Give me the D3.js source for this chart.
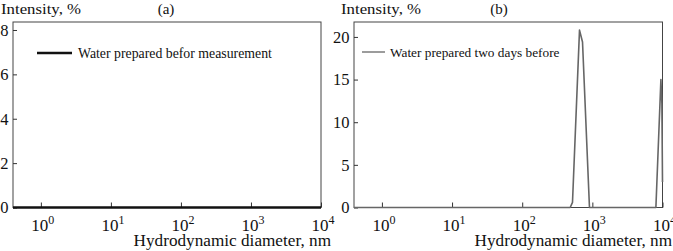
<!DOCTYPE html>
<html>
<head>
<meta charset="utf-8">
<script src="https://cdn.jsdelivr.net/npm/d3@7"></script>
<style>
  html, body { margin: 0; padding: 0; background: #fff; }
  svg { display: block; font-family: "Liberation Serif", "Times New Roman", serif; }
</style>
</head>
<body>
<svg id="chart" width="673" height="251"></svg>
<script>
// ---- data ----
const xTicks = [1, 10, 100, 1000, 10000];
const xTickExponents = ["0", "1", "2", "3", "4"];
const yTicksA = [0, 2, 4, 6, 8];
const yTicksB = [0, 5, 10, 15, 20];

const diameterA = [0.4, 10000];
const intensityA = [0, 0];

const diameterB = [0.4, 483, 521, 656, 724, 910, 8050, 9490, 9800, 10000];
const intensityB = [0, 0, 0.6, 20.8, 19.4, 0, 0, 15.0, 12.2, 3];

const panelLabels = ["(a)", "(b)"];
const legendLabels = ["Water prepared befor measurement", "Water prepared two days before"];
const yTitle = "Intensity, %";
const xTitle = "Hydrodynamic diameter, nm";

const svg = d3.select("#chart");

function drawPanel(cfg) {
  const g = svg.append("g");
  const x = d3.scaleLog().domain([0.4, 10000]).range([cfg.left, cfg.right]);
  const y = d3.scaleLinear().domain([0, cfg.yMax]).range([cfg.bottom, cfg.top]);

  // frame
  g.append("rect")
    .attr("x", cfg.left).attr("y", cfg.top)
    .attr("width", cfg.right - cfg.left).attr("height", cfg.bottom - cfg.top)
    .attr("fill", "none").attr("stroke", "#444").attr("stroke-width", 1);

  // x axis ticks (inward)
  const xAxis = d3.axisBottom(x).tickValues(xTicks).tickSizeInner(-5).tickSizeOuter(0).tickFormat("");
  const xa = g.append("g").attr("transform", `translate(0,${cfg.bottom})`).call(xAxis);
  xa.select(".domain").remove();
  xa.selectAll(".tick line").attr("stroke", "#333");

  // x tick labels with superscripts
  xTicks.forEach((v, i) => {
    const t = g.append("text")
      .attr("x", x(v) + 2).attr("y", cfg.bottom + 23)
      .attr("text-anchor", "middle")
      .attr("font-size", 17).attr("fill", "#111");
    t.append("tspan").text("10");
    t.append("tspan").attr("dy", -7).attr("font-size", 12).text(xTickExponents[i]);
  });

  // y axis ticks (inward)
  const yAxis = d3.axisLeft(y).tickValues(cfg.yTicks).tickSizeInner(-4).tickSizeOuter(0).tickPadding(4.5);
  const ya = g.append("g").attr("transform", `translate(${cfg.left},0)`).call(yAxis);
  ya.select(".domain").remove();
  ya.selectAll(".tick line").attr("stroke", "#333");
  ya.selectAll(".tick text")
    .attr("font-size", 16.5).attr("font-family", "Liberation Serif, serif").attr("fill", "#111");

  // titles
  g.append("text").attr("x", cfg.yTitleX).attr("y", 13.5)
    .attr("font-size", 15).attr("textLength", 80).attr("lengthAdjust", "spacingAndGlyphs")
    .attr("fill", "#111").text(yTitle);
  g.append("text").attr("x", cfg.panelX).attr("y", 13.5).attr("text-anchor", "middle")
    .attr("font-size", 15).attr("fill", "#111").text(cfg.panel);
  g.append("text").attr("x", cfg.xTitleRight).attr("y", 245.5).attr("text-anchor", "end")
    .attr("font-size", 17.2).attr("fill", "#111").text(xTitle);

  // data line
  const line = d3.line().x((d, i) => x(cfg.xs[i])).y((d) => y(d));
  g.append("path").datum(cfg.ys)
    .attr("d", line)
    .attr("fill", "none")
    .attr("stroke", cfg.color).attr("stroke-width", cfg.width)
    .attr("stroke-linejoin", "round");

  // legend
  g.append("line")
    .attr("x1", cfg.legX1).attr("x2", cfg.legX2).attr("y1", cfg.legY).attr("y2", cfg.legY)
    .attr("stroke", cfg.color).attr("stroke-width", cfg.legWidth);
  g.append("text").attr("x", cfg.legTextX).attr("y", cfg.legY + 4.5)
    .attr("font-size", cfg.legFont).attr("fill", "#111").text(cfg.legend);
}

drawPanel({
  left: 13, right: 321, top: 22, bottom: 207.5, yMax: 8.36, yTicks: yTicksA,
  xs: diameterA, ys: intensityA, color: "#111", width: 2.6,
  panel: panelLabels[0], panelX: 166, yTitleX: 1, xTitleRight: 331,
  legend: legendLabels[0], legX1: 37, legX2: 72, legY: 53, legWidth: 2.3, legTextX: 78, legFont: 13.8
});

drawPanel({
  left: 354, right: 662.5, top: 22, bottom: 207.5, yMax: 21.75, yTicks: yTicksB,
  xs: diameterB, ys: intensityB, color: "#666", width: 1.6,
  panel: panelLabels[1], panelX: 499, yTitleX: 341, xTitleRight: 672,
  legend: legendLabels[1], legX1: 362, legX2: 385, legY: 52, legWidth: 1.3, legTextX: 390, legFont: 13.3
});
</script>
</body>
</html>
